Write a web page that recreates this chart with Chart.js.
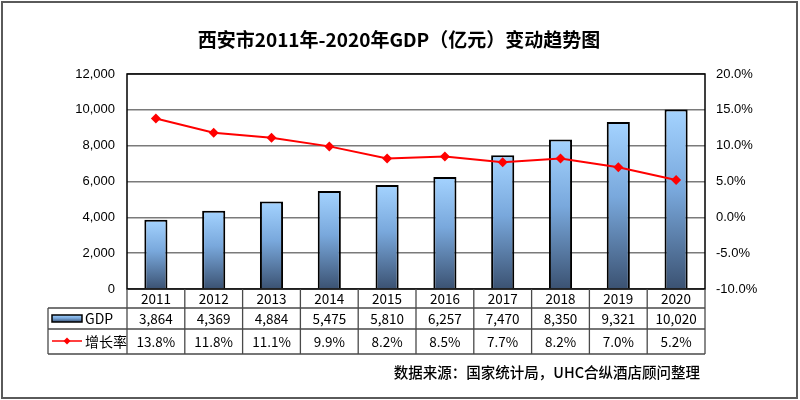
<!DOCTYPE html>
<html>
<head>
<meta charset="utf-8">
<script src="https://cdn.jsdelivr.net/npm/chart.js@4.4.0/dist/chart.umd.min.js"></script>
<style>
html,body{margin:0;padding:0;background:#fff;}
#wrap{width:800px;height:400px;position:relative;}
</style>
</head>
<body>
<div id="wrap"><canvas id="c" width="800" height="400"></canvas></div>
<script>
const titleText = '西安市2011年-2020年GDP（亿元）变动趋势图';
const sourceText = '数据来源：国家统计局，UHC合纵酒店顾问整理';
const categories = ['2011','2012','2013','2014','2015','2016','2017','2018','2019','2020'];
const gdpValues = [3864, 4369, 4884, 5475, 5810, 6257, 7470, 8350, 9321, 10020];
const growthRates = [13.8, 11.8, 11.1, 9.9, 8.2, 8.5, 7.7, 8.2, 7.0, 5.2];
const gdpLabel = 'GDP';
const growthLabel = '增长率';

const CJK = '"Noto Sans CJK SC", "Noto Sans", sans-serif';
const ARIAL = '"Liberation Sans", Arial, sans-serif';

function barGradient(ctx, top, bottom) {
  const g = ctx.createLinearGradient(0, top, 0, bottom);
  g.addColorStop(0, '#a4d3ff');
  g.addColorStop(0.45, '#79a8dc');
  g.addColorStop(1, '#3b5272');
  return g;
}

const fmtInt = v => v.toLocaleString('en-US');
const fmtPct = v => v.toFixed(1) + '%';

const decorPlugin = {
  id: 'decor',
  beforeDatasetsDraw(chart) {
    const {ctx, chartArea: a} = chart;
    ctx.save();
    ctx.strokeStyle = '#000';
    ctx.lineWidth = 1.5;
    ctx.strokeRect(a.left, a.top, a.right - a.left, a.bottom - a.top);
    ctx.restore();
  },
  afterDraw(chart) {
    const {ctx, chartArea: a, scales} = chart;
    const x = scales.x;
    ctx.save();
    // title
    ctx.fillStyle = '#000';
    ctx.font = 'bold 19px ' + CJK;
    ctx.textAlign = 'center';
    ctx.textBaseline = 'middle';
    ctx.fillText(titleText, 399, 40);

    // table geometry
    const tLeft = 48, yTop = a.bottom, r1 = 308, r2 = 329, r3 = 354;
    const n = categories.length;
    const step = (a.right - a.left) / n;
    ctx.strokeStyle = '#4a4a4a';
    ctx.lineWidth = 1.3;
    ctx.beginPath();
    ctx.moveTo(tLeft, r1); ctx.lineTo(a.right, r1);
    ctx.moveTo(tLeft, r2); ctx.lineTo(a.right, r2);
    ctx.moveTo(tLeft, r3); ctx.lineTo(a.right, r3);
    ctx.moveTo(tLeft, r1); ctx.lineTo(tLeft, r3);
    for (let i = 0; i <= n; i++) {
      const xx = a.left + i * step;
      ctx.moveTo(xx, yTop); ctx.lineTo(xx, r3);
    }
    ctx.stroke();

    // texts
    ctx.fillStyle = '#000';
    ctx.font = '13.5px ' + CJK;
    ctx.textAlign = 'center';
    ctx.textBaseline = 'middle';
    categories.forEach((c, i) => {
      const cx = x.getPixelForValue(i);
      ctx.fillText(c, cx, 299);
      ctx.fillText(fmtInt(gdpValues[i]), cx, 319);
      ctx.fillText(fmtPct(growthRates[i]), cx, 342);
    });

    // legend keys
    ctx.fillStyle = barGradient(ctx, 315, 322);
    ctx.fillRect(52, 315, 30, 7);
    ctx.strokeStyle = '#000';
    ctx.lineWidth = 1.5;
    ctx.strokeRect(52, 315, 30, 7);
    ctx.strokeStyle = '#ff0000';
    ctx.lineWidth = 1.5;
    ctx.beginPath(); ctx.moveTo(52, 341); ctx.lineTo(82, 341); ctx.stroke();
    ctx.fillStyle = '#ff0000';
    ctx.beginPath();
    ctx.moveTo(67, 337.5); ctx.lineTo(70.5, 341); ctx.lineTo(67, 344.5); ctx.lineTo(63.5, 341); ctx.closePath();
    ctx.fill();
    ctx.fillStyle = '#000';
    ctx.textAlign = 'left';
    ctx.font = '14px ' + CJK;
    ctx.fillText(gdpLabel, 85, 319);
    ctx.fillText(growthLabel, 85, 342);

    // source
    ctx.font = '500 14.5px ' + CJK;
    ctx.textAlign = 'right';
    ctx.fillText(sourceText, 700, 372);

    // outer frame
    ctx.strokeStyle = '#5a5a5a';
    ctx.lineWidth = 2;
    ctx.strokeRect(2, 2, 795, 396);
    ctx.restore();
  }
};

new Chart(document.getElementById('c'), {
  data: {
    labels: categories,
    datasets: [
      {
        type: 'line',
        label: growthLabel,
        data: growthRates,
        yAxisID: 'y1',
        borderColor: '#ff0000',
        backgroundColor: '#ff0000',
        borderWidth: 2,
        pointStyle: 'rectRot',
        pointRadius: 5,
        pointBorderWidth: 0,
        tension: 0,
        order: 0
      },
      {
        type: 'bar',
        label: gdpLabel,
        data: gdpValues,
        yAxisID: 'y',
        backgroundColor(context) {
          const chart = context.chart;
          const a = chart.chartArea;
          if (!a || context.dataIndex === undefined) return '#79a8dc';
          const ys = chart.scales.y;
          const top = ys.getPixelForValue(gdpValues[context.dataIndex]);
          const bottom = ys.getPixelForValue(0);
          return barGradient(chart.ctx, top, bottom);
        },
        borderColor: '#000',
        borderWidth: 2,
        barPercentage: 0.4,
        categoryPercentage: 1,
        order: 1
      }
    ]
  },
  options: {
    responsive: false,
    devicePixelRatio: 1,
    animation: false,
    layout: { padding: { top: 74, bottom: 111, left: 0, right: 0 } },
    plugins: { legend: { display: false }, title: { display: false }, tooltip: { enabled: false } },
    scales: {
      x: { display: false, offset: true },
      y: {
        position: 'left',
        min: 0, max: 12000,
        afterFit(s) { s.width = 127; },
        ticks: { stepSize: 2000, padding: 12, color: '#000', font: { family: ARIAL, size: 13 }, callback: v => fmtInt(v) },
        grid: { color: '#7a7a7a', lineWidth: 1.5, drawTicks: false },
        border: { display: false }
      },
      y1: {
        position: 'right',
        min: -10, max: 20,
        afterFit(s) { s.width = 95; },
        ticks: { stepSize: 5, padding: 11, color: '#000', font: { family: ARIAL, size: 13 }, callback: v => fmtPct(v) },
        grid: { display: false, drawTicks: false },
        border: { display: false }
      }
    }
  },
  plugins: [decorPlugin]
});
</script>
</body>
</html>
